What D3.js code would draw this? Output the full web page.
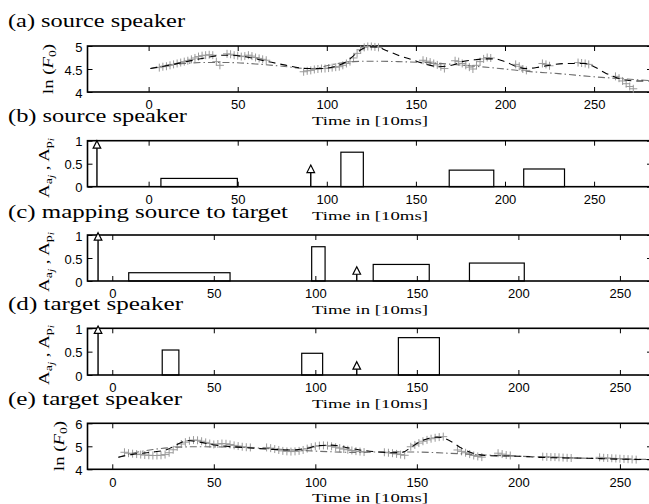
<!DOCTYPE html>
<html>
<head>
<meta charset="utf-8">
<script src="https://cdn.jsdelivr.net/npm/d3@7/dist/d3.min.js"></script>
<style>
  body { margin: 0; background: #fff; }
  .tick text { font-family: "Liberation Sans", Arial, sans-serif; font-size: 13px; fill: #000; }
  .tick line { stroke: #000; stroke-width: 1; }
  .title { font-family: "Liberation Serif", "Times New Roman", serif; font-size: 19px; }
  .xlab { font-family: "Liberation Serif", "Times New Roman", serif; font-size: 13px; }
  .ylab { font-family: "Liberation Serif", "Times New Roman", serif; font-size: 15px; }
</style>
</head>
<body>
<svg id="chart" width="649" height="504"></svg>
<script>
// tick labels and titles
const timeTicks = [0, 50, 100, 150, 200, 250];
const f0TicksSrc = [4, 4.5, 5];
const f0TicksTgt = [4, 5, 6];
const ampTicks = [0, 0.5, 1];
const titles = ["(a) source speaker", "(b) source speaker", "(c) mapping source to target",
                "(d) target speaker", "(e) target speaker"];

// (a) observed ln F0 of source, voiced segments: start frame, one value every 2 frames
const srcF0Start = [6, 44, 87, 154, 172, 206, 221, 241, 262];
const srcF0Values = [
  [4.53, 4.55, 4.56, 4.58, 4.6, 4.62, 4.64, 4.66, 4.68, 4.71, 4.74, 4.77, 4.79, 4.8, 4.81, 4.8, 4.66, 4.58],
  [4.83, 4.82, 4.8, 4.79, 4.77, 4.78, 4.8, 4.78, 4.75, 4.73, 4.71, 4.69],
  [4.44, 4.46, 4.47, 4.49, 4.5, 4.51, 4.51, 4.52, 4.53, 4.54, 4.55, 4.58, 4.62, 4.66, 4.74, 4.84, 4.92, 4.97, 4.99, 4.99, 4.98, 4.97],
  [4.69, 4.67, 4.65, 4.62, 4.59, 4.55, 4.51],
  [4.68, 4.66, 4.62, 4.58, 4.54, 4.5, 4.58, 4.66, 4.72, 4.75, 4.74],
  [4.6, 4.56, 4.5, 4.47],
  [4.62, 4.6, 4.57],
  [4.64, 4.63, 4.62, 4.6],
  [4.34, 4.3, 4.24, 4.18, 4.12, 4.07]
];
// (a) model contour and phrase component
const srcModelT = [1, 10, 20, 30, 37, 42, 47, 55, 66, 76, 89, 96, 104, 111, 116, 120, 124, 128, 133, 140, 148, 156, 163, 170, 176, 183, 189, 194, 200, 206, 212, 219, 226, 235, 245, 250, 256, 262, 268, 274, 281];
const srcModelV = [4.51, 4.57, 4.65, 4.73, 4.78, 4.8, 4.8, 4.76, 4.67, 4.59, 4.51, 4.51, 4.55, 4.66, 4.82, 4.94, 4.98, 4.98, 4.91, 4.8, 4.7, 4.6, 4.55, 4.58, 4.66, 4.7, 4.72, 4.72, 4.66, 4.56, 4.51, 4.54, 4.59, 4.62, 4.62, 4.55, 4.42, 4.32, 4.26, 4.24, 4.24];
const srcPhraseT = [1, 10, 20, 30, 45, 60, 75, 90, 95, 100, 108, 115, 125, 140, 160, 180, 200, 212, 230, 250, 265, 281];
const srcPhraseV = [4.51, 4.58, 4.62, 4.64, 4.64, 4.61, 4.56, 4.51, 4.52, 4.57, 4.63, 4.66, 4.67, 4.66, 4.63, 4.57, 4.5, 4.45, 4.4, 4.33, 4.29, 4.25];

// (b) source commands
const srcPhraseCmdT = [-29, 91];
const srcPhraseCmdA = [1.0, 0.47];
const srcAccOn = [6.9, 107.9, 168.7, 210.5];
const srcAccOff = [49.8, 120.5, 193.7, 233.4];
const srcAccA = [0.18, 0.75, 0.36, 0.385];

// (c) mapped commands
const mapPhraseCmdT = [-7, 120.4];
const mapPhraseCmdA = [1.05, 0.31];
const mapAccOn = [8.1, 98.2, 128.5, 175.9];
const mapAccOff = [58.0, 104.8, 156.1, 202.9];
const mapAccA = [0.18, 0.745, 0.36, 0.39];

// (d) target commands
const tgtPhraseCmdT = [-7, 120.4];
const tgtPhraseCmdA = [1.05, 0.285];
const tgtAccOn = [24.6, 93.3, 140.9];
const tgtAccOff = [32.8, 103.6, 161.1];
const tgtAccA = [0.535, 0.465, 0.8];

// (e) observed ln F0 of target
const tgtF0Start = [6, 28, 76, 134, 147, 170, 190, 212, 240];
const tgtF0Values = [
  [4.74, 4.7, 4.68, 4.66, 4.64, 4.62, 4.61, 4.6, 4.6, 4.61, 4.64],
  [4.72, 4.85, 4.98, 5.1, 5.18, 5.24, 5.27, 5.26, 5.22, 5.17, 5.12, 5.08, 5.1, 5.12, 5.11, 5.08, 5.04, 5.01, 4.98, 4.96, 4.95],
  [4.95, 4.92, 4.88, 4.84, 4.8, 4.78, 4.77, 4.78, 4.8, 4.84, 4.9, 4.96, 5.0, 5.03, 5.04, 5.03, 5.0, 4.96, 4.92, 4.88, 4.85, 4.82, 4.79, 4.77, 4.75],
  [4.74, 4.72, 4.7, 4.67, 4.64, 4.61],
  [4.98, 5.06, 5.14, 5.22, 5.28, 5.33, 5.37, 5.4, 5.42],
  [4.84, 4.78, 4.72, 4.66, 4.6, 4.56, 4.53],
  [4.7, 4.66, 4.62, 4.6],
  [4.55, 4.54, 4.53, 4.53, 4.52, 4.51, 4.5, 4.49],
  [4.52, 4.5, 4.49, 4.48, 4.47, 4.46, 4.45, 4.44, 4.43, 4.42]
];
const tgtModelT = [3, 10, 20, 27, 32, 37, 43, 50, 60, 71, 80, 88, 95, 102, 108, 115, 122, 130, 138, 143, 147, 152, 156, 160, 164, 168, 172, 176, 184, 192, 200, 210, 218, 226, 234, 242, 250, 258, 266];
const tgtModelV = [4.52, 4.65, 4.75, 4.86, 5.08, 5.25, 5.18, 5.06, 4.98, 4.91, 4.86, 4.84, 4.9, 5.03, 5.05, 4.95, 4.84, 4.76, 4.72, 4.74, 4.95, 5.22, 5.35, 5.4, 5.33, 5.15, 4.92, 4.75, 4.6, 4.58, 4.57, 4.52, 4.5, 4.49, 4.48, 4.46, 4.44, 4.43, 4.42];
const tgtPhraseT = [3, 10, 20, 30, 40, 55, 70, 85, 100, 115, 120, 125, 135, 150, 170, 190, 210, 230, 250, 266];
const tgtPhraseV = [4.52, 4.7, 4.86, 4.95, 4.98, 4.97, 4.93, 4.86, 4.79, 4.74, 4.73, 4.74, 4.76, 4.75, 4.68, 4.6, 4.54, 4.49, 4.45, 4.43];

const svg = d3.select("#chart");
const left = 87.5, right = 652;

const xSrc = d3.scaleLinear().domain([-34.3, 282.5]).range([left, right]);
const xTgt = d3.scaleLinear().domain([-12.2, 265.8]).range([left, right]);

function frame(x, y, top, bottom, yTicks) {
  const g = svg.append("g");
  g.append("g").attr("transform", `translate(0,${bottom})`)
    .call(d3.axisBottom(x).tickValues(timeTicks).tickSizeInner(-5).tickSizeOuter(0).tickPadding(8))
    .call(a => a.select(".domain").remove());
  g.append("g").attr("transform", `translate(0,${top})`)
    .call(d3.axisTop(x).tickValues(timeTicks).tickSizeInner(-5).tickSizeOuter(0).tickFormat(""))
    .call(a => a.select(".domain").remove());
  g.append("g").attr("transform", `translate(${left},0)`)
    .call(d3.axisLeft(y).tickValues(yTicks).tickSizeInner(-5).tickSizeOuter(0).tickPadding(5).tickFormat(d3.format("")))
    .call(a => a.select(".domain").remove())
    .selectAll("text").attr("dy", "0.4em");
  g.append("g").attr("transform", `translate(${right},0)`)
    .call(d3.axisRight(y).tickValues(yTicks).tickSizeInner(-5).tickSizeOuter(0).tickFormat(""))
    .call(a => a.select(".domain").remove());
  g.append("rect").attr("x", left).attr("y", top).attr("width", right - left).attr("height", bottom - top)
    .attr("fill", "none").attr("stroke", "#000").attr("stroke-width", 1.6);
  // x label
  svg.append("text").attr("class", "xlab").attr("x", 370).attr("y", bottom + 33)
    .attr("text-anchor", "middle").attr("textLength", 116).attr("lengthAdjust", "spacingAndGlyphs")
    .text("Time in [10ms]");
  return g;
}

function title(i, yPos, w) {
  svg.append("text").attr("class", "title").attr("x", 8).attr("y", yPos)
    .attr("textLength", w).attr("lengthAdjust", "spacingAndGlyphs").text(titles[i]);
}

function f0Label(cx, cy) {
  const t = svg.append("text").attr("class", "ylab")
    .attr("transform", `translate(${cx},${cy}) rotate(-90)`).attr("text-anchor", "middle")
    .attr("textLength", 50).attr("lengthAdjust", "spacingAndGlyphs");
  t.append("tspan").text("ln (");
  t.append("tspan").attr("font-style", "italic").text("F");
  t.append("tspan").attr("font-size", 11).attr("dy", 3).text("0");
  t.append("tspan").attr("dy", -3).text(")");
}

function ampLabel(cx, cy) {
  const t = svg.append("text").attr("class", "ylab")
    .attr("transform", `translate(${cx},${cy}) rotate(-90)`).attr("text-anchor", "middle")
    .attr("textLength", 60).attr("lengthAdjust", "spacingAndGlyphs");
  t.append("tspan").text("A");
  t.append("tspan").attr("font-size", 11).attr("dy", 3).text("a");
  t.append("tspan").attr("font-size", 9).attr("font-style", "italic").attr("dy", 2).text("j");
  t.append("tspan").attr("dy", -5).text(" , A");
  t.append("tspan").attr("font-size", 11).attr("dy", 3).text("p");
  t.append("tspan").attr("font-size", 9).attr("font-style", "italic").attr("dy", 2).text("i");
}

function f0Panel(x, y, starts, values, mT, mV, pT, pV) {
  const pts = [];
  starts.forEach((s, k) => values[k].forEach((v, i) => pts.push([s + 2 * i, v])));
  svg.append("g").selectAll("path").data(pts).join("path")
    .attr("d", d => `M${x(d[0]) - 4},${y(d[1])}h8M${x(d[0])},${y(d[1]) - 4}v8`)
    .attr("stroke", "#9a9a9a").attr("stroke-width", 1).attr("fill", "none");
  const line = d3.line().x(d => x(d[0])).y(d => y(d[1])).curve(d3.curveMonotoneX);
  svg.append("path").attr("d", line(d3.zip(pT, pV)))
    .attr("fill", "none").attr("stroke", "#6e6e6e").attr("stroke-width", 1.1)
    .attr("stroke-dasharray", "7,3,1.5,3");
  svg.append("path").attr("d", line(d3.zip(mT, mV)))
    .attr("fill", "none").attr("stroke", "#000").attr("stroke-width", 1.1)
    .attr("stroke-dasharray", "7,5");
}

function cmdPanel(x, y, pT, pA, on, off, aA) {
  const g = svg.append("g");
  g.selectAll("rect.acc").data(d3.range(on.length)).join("rect").attr("class", "acc")
    .attr("x", i => x(on[i])).attr("y", i => y(aA[i]))
    .attr("width", i => x(off[i]) - x(on[i])).attr("height", i => y(0) - y(aA[i]))
    .attr("fill", "none").attr("stroke", "#000").attr("stroke-width", 1.2);
  const arr = g.selectAll("g.arrow").data(d3.range(pT.length)).join("g").attr("class", "arrow");
  arr.append("line")
    .attr("x1", i => x(pT[i])).attr("x2", i => x(pT[i]))
    .attr("y1", y(0)).attr("y2", i => y(pA[i]) + 7)
    .attr("stroke", "#000").attr("stroke-width", 1.4);
  arr.append("path")
    .attr("d", i => { const cx = x(pT[i]), ty = y(pA[i]); return `M${cx},${ty}L${cx + 3.8},${ty + 7.5}L${cx - 3.8},${ty + 7.5}Z`; })
    .attr("fill", "#fff").attr("stroke", "#000").attr("stroke-width", 1.2);
}

// (a)
const yA = d3.scaleLinear().domain([4, 5]).range([92, 46]);
frame(xSrc, yA, 46, 92, f0TicksSrc);
f0Panel(xSrc, yA, srcF0Start, srcF0Values, srcModelT, srcModelV, srcPhraseT, srcPhraseV);
title(0, 27, 177);
f0Label(53, 69);

// (b)
const yB = d3.scaleLinear().domain([0, 1]).range([186.7, 140.7]);
frame(xSrc, yB, 140.7, 186.7, ampTicks);
cmdPanel(xSrc, yB, srcPhraseCmdT, srcPhraseCmdA, srcAccOn, srcAccOff, srcAccA);
title(1, 122, 179);
ampLabel(49, 168);

// (c)
const yC = d3.scaleLinear().domain([0, 1]).range([281, 235]);
frame(xTgt, yC, 235, 281, ampTicks);
cmdPanel(xTgt, yC, mapPhraseCmdT, mapPhraseCmdA, mapAccOn, mapAccOff, mapAccA);
title(2, 218, 280);
ampLabel(49, 262);

// (d)
const yD = d3.scaleLinear().domain([0, 1]).range([375, 328.3]);
frame(xTgt, yD, 328.3, 375, ampTicks);
cmdPanel(xTgt, yD, tgtPhraseCmdT, tgtPhraseCmdA, tgtAccOn, tgtAccOff, tgtAccA);
title(3, 310, 175);
ampLabel(49, 355);

// (e)
const yE = d3.scaleLinear().domain([4, 6]).range([469.3, 423.3]);
frame(xTgt, yE, 423.3, 469.3, f0TicksTgt);
f0Panel(xTgt, yE, tgtF0Start, tgtF0Values, tgtModelT, tgtModelV, tgtPhraseT, tgtPhraseV);
title(4, 405, 174);
f0Label(64, 446);
</script>
</body>
</html>
